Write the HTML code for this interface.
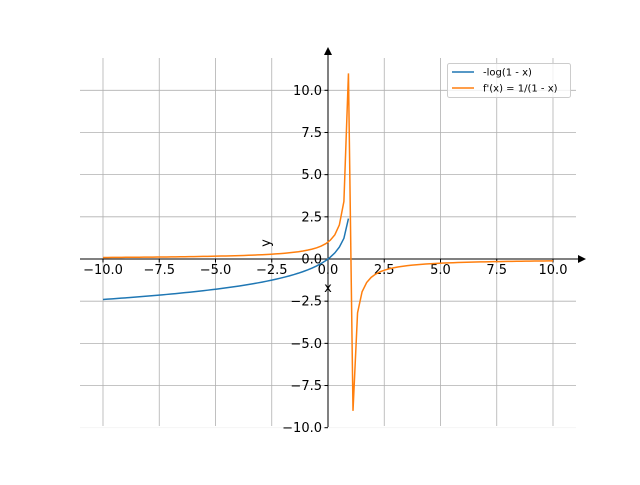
<!DOCTYPE html>
<html><head><meta charset="utf-8"><style>
body{margin:0;background:#fff}
svg text{font-family:"DejaVu Sans","Liberation Sans",sans-serif;font-size:13px;fill:#000}
</style></head><body>
<svg id="s" width="640" height="480" xmlns="http://www.w3.org/2000/svg">
<g id="grid" stroke="#b0b0b0" stroke-width="0.8"></g>
<g id="ticks"></g>
<line x1="80" y1="259" x2="583" y2="259" stroke="#000" stroke-width="1"/>
<polygon points="586,259 578,255 578,263" fill="#000"/>
<line x1="328" y1="427" x2="328" y2="51" stroke="#000" stroke-width="1"/>
<polygon points="328,47 324,55 332,55" fill="#000"/>
<path id="b" fill="none" stroke="#1f77b4" stroke-width="1.5"/>
<path id="o" fill="none" stroke="#ff7f0e" stroke-width="1.5"/>
<text x="328" y="292" text-anchor="middle">x</text>
<text x="0" y="0" text-anchor="middle" transform="translate(270,243) rotate(-90)">y</text>
<rect x="447.5" y="63.5" width="123" height="34" rx="2" fill="#fff" fill-opacity="0.8" stroke="#ccc"/>
<line x1="452" y1="72" x2="474" y2="72" stroke="#1f77b4" stroke-width="1.5"/>
<line x1="452" y1="88" x2="474" y2="88" stroke="#ff7f0e" stroke-width="1.5"/>
<text x="483" y="75.5" style="font-size:10px">-log(1 - x)</text>
<text x="483" y="91.5" style="font-size:10px">f'(x) = 1/(1 - x)</text>
</svg>
<script>
const X=v=>328+v*22.5, Y=v=>259-v*16.87;
const g=document.getElementById('grid'),t=document.getElementById('ticks');
const ns='http://www.w3.org/2000/svg';
function el(p,n,a,txt){const e=document.createElementNS(ns,n);for(const k in a)e.setAttribute(k,a[k]);if(txt!=null)e.textContent=txt;p.appendChild(e);}
for(let v=-10;v<=10;v+=2.5){
 el(g,'line',{x1:X(v),x2:X(v),y1:58,y2:426});
 el(g,'line',{x1:80,x2:576,y1:Y(v),y2:Y(v),stroke:v===-10?'#f4f4f4':'#b0b0b0'});
 el(t,'line',{x1:X(v),x2:X(v),y1:259,y2:262.5,stroke:'#000'});
 el(t,'line',{x1:324.5,x2:328,y1:Y(v),y2:Y(v),stroke:'#000'});
 el(t,'text',{x:X(v),y:274,'text-anchor':'middle'},v.toFixed(1).replace('-','\u2212'));
 el(t,'text',{x:322,y:Y(v)+4.5,'text-anchor':'end'},v.toFixed(1).replace('-','\u2212'));
}
let b='',o='';
for(let k=0;k<100;k++){const x=-10+k*20/99;
 if(x<1)b+=(b?'L':'M')+X(x).toFixed(2)+','+Y(-Math.log(1-x)).toFixed(2);
 o+=(o?'L':'M')+X(x).toFixed(2)+','+Y(1/(1-x)).toFixed(2);}
document.getElementById('b').setAttribute('d',b);
document.getElementById('o').setAttribute('d',o);
</script>
</body></html>
